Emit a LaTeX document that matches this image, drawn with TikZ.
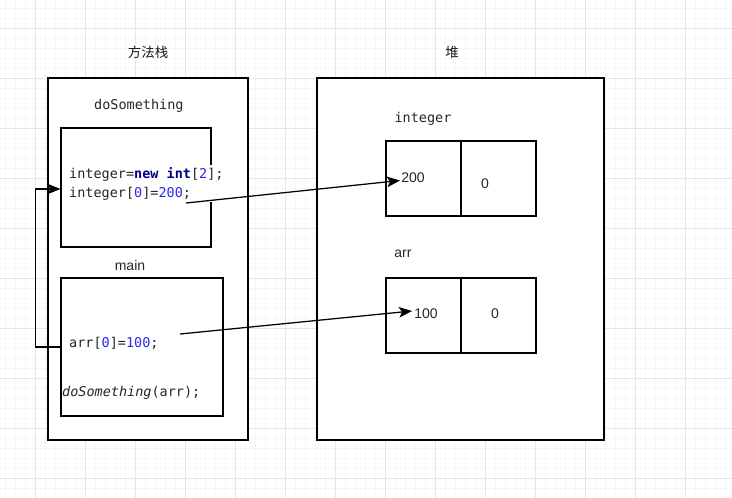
\documentclass[tikz,border=0pt]{standalone}
\usepackage{fontspec}
\setmainfont{Liberation Sans}
\newfontfamily\codefont{DejaVu Sans Mono}
\newfontfamily\cjk{Noto Sans CJK SC}
\usetikzlibrary{arrows.meta}
\definecolor{kw}{RGB}{0,0,128}
\definecolor{num}{RGB}{40,40,235}
\definecolor{minorgrid}{RGB}{246,246,246}
\definecolor{majorgrid}{RGB}{230,230,230}
\tikzset{
  box/.style={draw=black, line width=1.2pt, inner sep=0pt, fill=white},
  code/.style={font=\codefont\fontsize{13.5}{16}\selectfont, inner sep=0pt, anchor=west, text=black!85},
  label/.style={font=\fontsize{14}{16}\selectfont, inner sep=0pt, text=black!85},
  cjklabel/.style={font=\cjk\fontsize{13.5}{16}\selectfont, inner sep=0pt, text=black!90},
  conn/.style={draw=black, line width=1.25pt, -{Stealth[length=13pt,width=10.5pt,inset=3pt]}},
}
\newcommand{\kwd}[1]{\textcolor{kw}{\textbf{#1}}}
\newcommand{\nm}[1]{\textcolor{num}{#1}}
\begin{document}
\begin{tikzpicture}[x=1pt,y=-1pt]
\fill[white] (0,0) rectangle (732,498);
\useasboundingbox (0,0) rectangle (732,498);
% grid
\foreach \x in {5,15,...,725} \draw[minorgrid, line width=0.8pt] (\x,0) -- (\x,498);
\foreach \y in {8,18,...,498} \draw[minorgrid, line width=0.8pt] (0,\y) -- (732,\y);
\foreach \x in {35,85,...,725} \draw[majorgrid, line width=0.9pt] (\x,0) -- (\x,498);
\foreach \y in {28,78,...,478} \draw[majorgrid, line width=0.9pt] (0,\y) -- (732,\y);

% titles
\node[cjklabel] (stacktitle) at (148,52) {方法栈};
\node[cjklabel] (heaptitle) at (452,52) {堆};

% main containers
\node[box, minimum width=200pt, minimum height=362pt] (stack) at (148,259) {};
\node[box, minimum width=287pt, minimum height=362pt] (heap) at (460.5,259) {};

% frames
\node[code] (dolabel) at (94,106) {doSomething};
\node[box, minimum width=150pt, minimum height=119pt] (dobox) at (136,187.5) {};
\node[label] (mainlabel) at (130,265) {main};
\node[box, minimum width=162pt, minimum height=138pt] (mainbox) at (142,347) {};

% code
\node[code, fill=white, inner xsep=1pt, inner ysep=2pt, align=left,
      font=\codefont\fontsize{13.5}{19}\selectfont] (code1) at (68,183.5)
  {integer=\kwd{new} \kwd{int}[\nm{2}];\\integer[\nm{0}]=\nm{200};};
\node[code] (code3) at (69,343) {arr[\nm{0}]=\nm{100};};
\node[code] (code4) at (62,393) {\textit{doSomething}(arr);};

% heap cells
\node[code, anchor=center] (intlabel) at (423,119) {integer};
\node[box, minimum width=75pt, minimum height=75pt] (i0) at (423.5,178.5) {};
\node[box, minimum width=75pt, minimum height=75pt] (i1) at (498.5,178.5) {};
\node[label] (arrlabel) at (403,254) {arr};
\node[box, minimum width=75pt, minimum height=75pt] (a0) at (423.5,315.5) {};
\node[box, minimum width=75pt, minimum height=75pt] (a1) at (498.5,315.5) {};

\node[label] (v200) at (413,178) {200};
\node[label] (vi1) at (485,184) {0};
\node[label] (v100) at (426,314) {100};
\node[label] (va1) at (495,314) {0};

% connectors
\coordinate (s1) at (186,203);
\coordinate (t1) at (400,180.5);
\coordinate (s2) at (180,334);
\coordinate (t2) at (412,311);
\draw[conn] (s1) -- (t1);
\draw[conn] (s2) -- (t2);
\draw[conn] (mainbox.west) -- ++(-25,0) |- ([yshift=-1.5pt]dobox.west);
\end{tikzpicture}
\end{document}
